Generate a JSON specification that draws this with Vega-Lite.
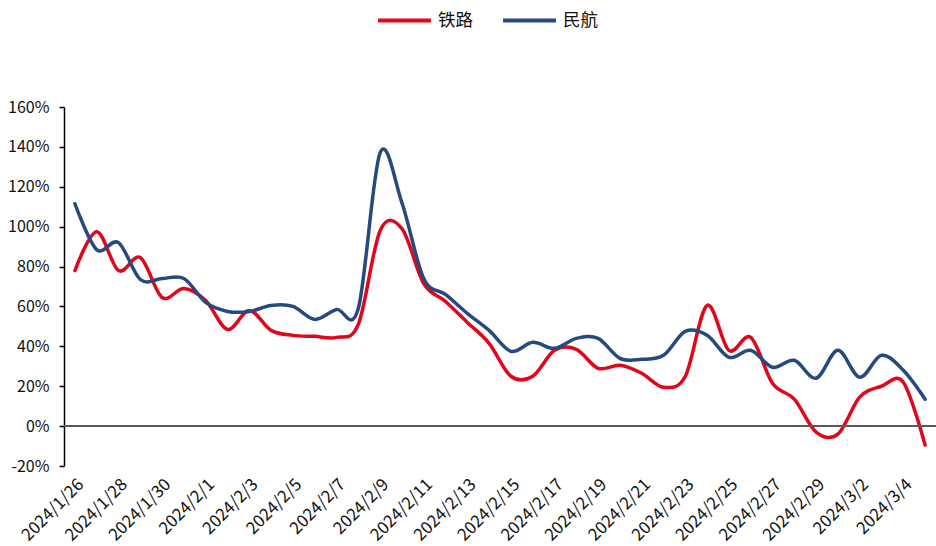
{
  "$schema": "https://vega.github.io/schema/vega-lite/v6.json",
  "autosize": "none",
  "width": 872,
  "height": 359,
  "padding": {"left": 64, "top": 107, "right": 0, "bottom": 80},
  "background": "white",
  "config": {"view": {"stroke": null}, "font": "Noto Sans CJK SC"},
  "data": {"values": [
    {"d":"2024/1/26","s":"铁路","v":78},{"d":"2024/1/27","s":"铁路","v":97.5},{"d":"2024/1/28","s":"铁路","v":78},{"d":"2024/1/29","s":"铁路","v":84.5},{"d":"2024/1/30","s":"铁路","v":64.5},{"d":"2024/1/31","s":"铁路","v":69},{"d":"2024/2/1","s":"铁路","v":63},{"d":"2024/2/2","s":"铁路","v":48.5},{"d":"2024/2/3","s":"铁路","v":58},{"d":"2024/2/4","s":"铁路","v":48},{"d":"2024/2/5","s":"铁路","v":45.5},{"d":"2024/2/6","s":"铁路","v":45},{"d":"2024/2/7","s":"铁路","v":44.5},{"d":"2024/2/8","s":"铁路","v":51},{"d":"2024/2/9","s":"铁路","v":98},{"d":"2024/2/10","s":"铁路","v":99},{"d":"2024/2/11","s":"铁路","v":71.5},{"d":"2024/2/12","s":"铁路","v":62.5},{"d":"2024/2/13","s":"铁路","v":52},{"d":"2024/2/14","s":"铁路","v":41.5},{"d":"2024/2/15","s":"铁路","v":25},{"d":"2024/2/16","s":"铁路","v":25},{"d":"2024/2/17","s":"铁路","v":38},{"d":"2024/2/18","s":"铁路","v":38.5},{"d":"2024/2/19","s":"铁路","v":29},{"d":"2024/2/20","s":"铁路","v":30.5},{"d":"2024/2/21","s":"铁路","v":26.5},{"d":"2024/2/22","s":"铁路","v":19.5},{"d":"2024/2/23","s":"铁路","v":25},{"d":"2024/2/24","s":"铁路","v":60.5},{"d":"2024/2/25","s":"铁路","v":38},{"d":"2024/2/26","s":"铁路","v":44.5},{"d":"2024/2/27","s":"铁路","v":21.5},{"d":"2024/2/28","s":"铁路","v":13.5},{"d":"2024/2/29","s":"铁路","v":-3},{"d":"2024/3/1","s":"铁路","v":-4},{"d":"2024/3/2","s":"铁路","v":14.5},{"d":"2024/3/3","s":"铁路","v":20},{"d":"2024/3/4","s":"铁路","v":22},{"d":"2024/3/5","s":"铁路","v":-9.5},
    {"d":"2024/1/26","s":"民航","v":111.5},{"d":"2024/1/27","s":"民航","v":88.5},{"d":"2024/1/28","s":"民航","v":92},{"d":"2024/1/29","s":"民航","v":73.5},{"d":"2024/1/30","s":"民航","v":74},{"d":"2024/1/31","s":"民航","v":74},{"d":"2024/2/1","s":"民航","v":62},{"d":"2024/2/2","s":"民航","v":57.5},{"d":"2024/2/3","s":"民航","v":57.5},{"d":"2024/2/4","s":"民航","v":60.5},{"d":"2024/2/5","s":"民航","v":60},{"d":"2024/2/6","s":"民航","v":53.5},{"d":"2024/2/7","s":"民航","v":58.5},{"d":"2024/2/8","s":"民航","v":59},{"d":"2024/2/9","s":"民航","v":137},{"d":"2024/2/10","s":"民航","v":112},{"d":"2024/2/11","s":"民航","v":74},{"d":"2024/2/12","s":"民航","v":66},{"d":"2024/2/13","s":"民航","v":56.5},{"d":"2024/2/14","s":"民航","v":48},{"d":"2024/2/15","s":"民航","v":37.5},{"d":"2024/2/16","s":"民航","v":42},{"d":"2024/2/17","s":"民航","v":39},{"d":"2024/2/18","s":"民航","v":44},{"d":"2024/2/19","s":"民航","v":44},{"d":"2024/2/20","s":"民航","v":34},{"d":"2024/2/21","s":"民航","v":33.5},{"d":"2024/2/22","s":"民航","v":35.5},{"d":"2024/2/23","s":"民航","v":47.5},{"d":"2024/2/24","s":"民航","v":45.5},{"d":"2024/2/25","s":"民航","v":34.5},{"d":"2024/2/26","s":"民航","v":38},{"d":"2024/2/27","s":"民航","v":29.5},{"d":"2024/2/28","s":"民航","v":33},{"d":"2024/2/29","s":"民航","v":24},{"d":"2024/3/1","s":"民航","v":38},{"d":"2024/3/2","s":"民航","v":24.5},{"d":"2024/3/3","s":"民航","v":35.5},{"d":"2024/3/4","s":"民航","v":28},{"d":"2024/3/5","s":"民航","v":13.5}
  ]},
  "layer": [
    {
      "mark": {"type": "line", "interpolate": "cardinal", "strokeWidth": 3.5, "strokeCap": "round", "strokeJoin": "round"},
      "encoding": {
        "x": {
          "field": "d", "type": "ordinal", "sort": null,
          "scale": {"type": "point", "padding": 0.5},
          "axis": {
            "title": null, "domain": false, "ticks": false,
            "values": ["2024/1/26","2024/1/28","2024/1/30","2024/2/1","2024/2/3","2024/2/5","2024/2/7","2024/2/9","2024/2/11","2024/2/13","2024/2/15","2024/2/17","2024/2/19","2024/2/21","2024/2/23","2024/2/25","2024/2/27","2024/2/29","2024/3/2","2024/3/4"],
            "labelAngle": -45, "labelAlign": "right", "labelBaseline": "top",
            "labelFontSize": 17, "labelColor": "#111", "labelPadding": 10, "labelFont": "Noto Sans CJK SC", "labelOverlap": false
          }
        },
        "y": {
          "field": "v", "type": "quantitative",
          "scale": {"domain": [-20, 160], "nice": false, "zero": false},
          "axis": {
            "title": null, "values": [-20,0,20,40,60,80,100,120,140,160],
            "labelExpr": "datum.value + '%'", "grid": false, "labelOverlap": false,
            "domainColor": "#000", "domainWidth": 1.5, "tickColor": "#000", "tickWidth": 1.5, "tickSize": 5,
            "labelFontSize": 16, "labelColor": "#111", "labelPadding": 10, "labelFont": "Noto Sans CJK SC"
          }
        },
        "color": {
          "field": "s", "type": "nominal",
          "scale": {"domain": ["铁路","民航"], "range": ["#E0061B","#264A80"]},
          "legend": {
            "title": null, "orient": "none", "direction": "horizontal",
            "legendX": 312, "legendY": -115,
            "symbolType": "stroke", "symbolSize": 2800, "symbolStrokeWidth": 4,
            "labelFontSize": 17.5, "labelColor": "#111", "labelOffset": 5, "columnPadding": 22,
            "labelFont": "Noto Sans CJK SC"
          }
        }
      }
    },
    {
      "mark": {"type": "rule", "color": "#595959", "strokeWidth": 2},
      "encoding": {"y": {"datum": 0, "type": "quantitative",
        "axis": {
            "title": null, "values": [-20,0,20,40,60,80,100,120,140,160],
            "labelExpr": "datum.value + '%'", "grid": false, "labelOverlap": false,
            "domainColor": "#000", "domainWidth": 1.5, "tickColor": "#000", "tickWidth": 1.5, "tickSize": 5,
            "labelFontSize": 16, "labelColor": "#111", "labelPadding": 10, "labelFont": "Noto Sans CJK SC"
          }}}
    }
  ]
}
